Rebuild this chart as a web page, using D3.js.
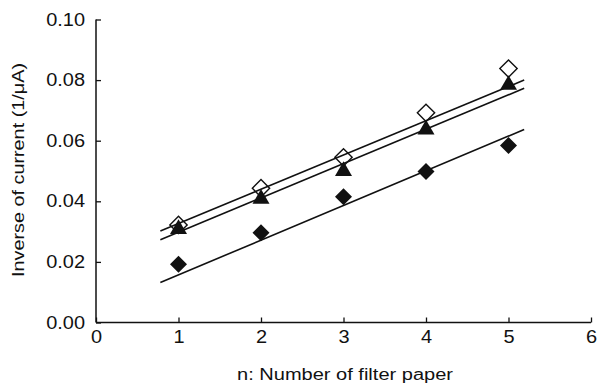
<!DOCTYPE html>
<html>
<head>
<meta charset="utf-8">
<script src="https://cdn.jsdelivr.net/npm/d3@7"></script>
<style>
  body { margin: 0; background: #fff; }
  text { font-family: "Liberation Sans", Arial, sans-serif; fill: #111; }
</style>
</head>
<body>
<svg id="chart" width="598" height="384"></svg>
<script>
// data
const nValues = [1, 2, 3, 4, 5];
const openDiamond = [0.0322, 0.0443, 0.0545, 0.0692, 0.0838];
const filledTriangle = [0.0308, 0.0408, 0.0500, 0.0637, 0.0784];
const filledDiamond = [0.0192, 0.0296, 0.0415, 0.0498, 0.0584];

// fitted lines, [x, y] at both ends
const fitOpen = [[0.78, 0.0302], [5.19, 0.0800]];
const fitTriangle = [[0.78, 0.0273], [5.19, 0.0773]];
const fitFilled = [[0.78, 0.0132], [5.19, 0.0637]];

const xTicks = [0, 1, 2, 3, 4, 5, 6];
const yTicks = [0, 0.02, 0.04, 0.06, 0.08, 0.10];

const svg = d3.select("#chart");
const x = d3.scaleLinear().domain([0, 6]).range([96, 591]);
const y = d3.scaleLinear().domain([0, 0.10]).range([322.5, 19.5]);

// the scanned lettering is wider than Arial, stretch it a bit
function widen(sel, k) {
    sel.each(function() {
        const w = this.getComputedTextLength();
        d3.select(this).attr("textLength", w * k).attr("lengthAdjust", "spacingAndGlyphs");
    });
}

// axes
const xAxis = svg.append("g")
    .attr("transform", `translate(0,${y(0)})`)
    .call(d3.axisBottom(x).tickValues(xTicks).tickSize(-5).tickPadding(8).tickFormat(d3.format("d")));
const yAxis = svg.append("g")
    .attr("transform", `translate(${x(0)},0)`)
    .call(d3.axisLeft(y).tickValues(yTicks).tickSize(-5).tickPadding(11).tickFormat(d3.format(".2f")));

[xAxis, yAxis].forEach(g => {
    g.select(".domain").attr("stroke", "#111").attr("stroke-width", 1.5);
    g.selectAll(".tick line").attr("stroke", "#111").attr("stroke-width", 1.3);
    g.selectAll(".tick text").attr("font-size", "17.5px").attr("fill", "#111")
        .style("font-family", "'Liberation Sans', Arial, sans-serif")
        .call(widen, 1.14);
});
// no end caps on the domain paths
xAxis.select(".domain").attr("d", `M${x(0)},0H${x(6)}`);
yAxis.select(".domain").attr("d", `M0,${y(0)}V${y(0.10)}`);

svg.append("text")
    .attr("x", 345).attr("y", 380)
    .attr("text-anchor", "middle")
    .attr("font-size", "16px")
    .attr("textLength", 216).attr("lengthAdjust", "spacingAndGlyphs")
    .text("n: Number of filter paper");

svg.append("text")
    .attr("transform", "translate(24,170) rotate(-90)")
    .attr("text-anchor", "middle")
    .attr("font-size", "16px")
    .attr("textLength", 214).attr("lengthAdjust", "spacingAndGlyphs")
    .text("Inverse of current (1/μA)");

// markers
const openSym = d3.symbol().type(d3.symbolSquare).size(150);
const filledSym = d3.symbol().type(d3.symbolSquare).size(145);
const triangle = d3.symbol().type(d3.symbolTriangle).size(125);

svg.append("g").selectAll("path")
    .data(nValues.map((n, i) => [n, openDiamond[i]]))
    .join("path")
    .attr("d", openSym)
    .attr("transform", d => `translate(${x(d[0])},${y(d[1])}) rotate(45)`)
    .attr("fill", "#fff")
    .attr("stroke", "#111")
    .attr("stroke-width", 1.4);

// fit lines
const line = d3.line().x(d => x(d[0])).y(d => y(d[1]));
[fitOpen, fitTriangle, fitFilled].forEach(pts => {
    svg.append("path")
        .attr("d", line(pts))
        .attr("fill", "none")
        .attr("stroke", "#111")
        .attr("stroke-width", 1.6);
});

svg.append("g").selectAll("path")
    .data(nValues.map((n, i) => [n, filledTriangle[i]]))
    .join("path")
    .attr("d", triangle)
    .attr("transform", d => `translate(${x(d[0])},${y(d[1])})`)
    .attr("fill", "#111");

svg.append("g").selectAll("path")
    .data(nValues.map((n, i) => [n, filledDiamond[i]]))
    .join("path")
    .attr("d", filledSym)
    .attr("transform", d => `translate(${x(d[0])},${y(d[1])}) rotate(45)`)
    .attr("fill", "#111");
</script>
</body>
</html>
